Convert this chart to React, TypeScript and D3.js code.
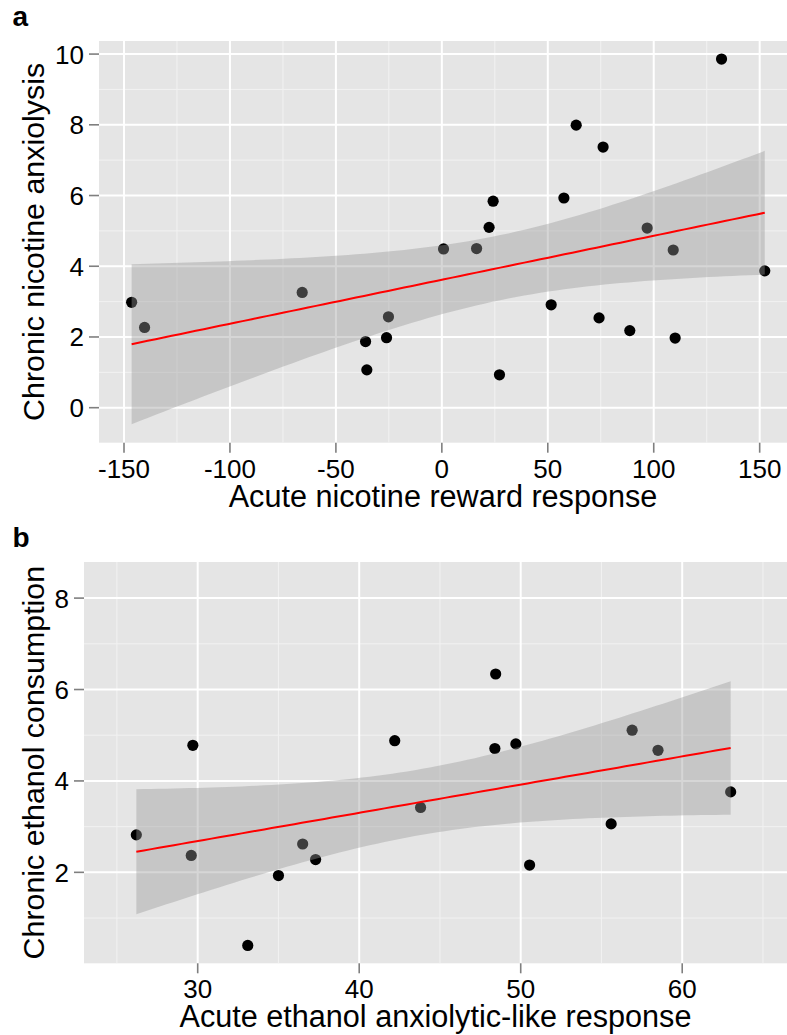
import React from "react";
import * as d3 from "d3";

// ---- Panel a data: acute nicotine reward vs chronic nicotine anxiolysis ----
const nicotineReward = [-146.4, -140.3, -65.9, -36.0, -35.4, -26.1, -25.2, 0.8, 16.4, 22.3, 24.2, 27.2, 51.6, 57.6, 63.4, 74.2, 76.1, 88.7, 96.9, 109.2, 110.1, 132.0, 152.4];
const nicotineAnxiolysis = [2.98, 2.27, 3.26, 1.87, 1.07, 1.98, 2.57, 4.49, 4.50, 5.10, 5.84, 0.93, 2.91, 5.93, 7.99, 2.54, 7.37, 2.18, 5.08, 4.46, 1.97, 9.86, 3.87];
const nicotineXTicks = [-150, -100, -50, 0, 50, 100, 150];
const nicotineXMinor = [-125, -75, -25, 25, 75, 125];
const nicotineYTicks = [0, 2, 4, 6, 8, 10];
const nicotineYMinor = [-1, 1, 3, 5, 7, 9];

// ---- Panel b data: acute ethanol anxiolytic-like vs chronic ethanol consumption ----
const ethanolAnxiolytic = [26.2, 29.6, 29.7, 33.1, 35.0, 36.5, 37.3, 42.2, 43.8, 48.4, 48.45, 49.7, 50.55, 55.6, 56.9, 58.5, 63.0];
const ethanolConsumption = [2.82, 2.37, 4.78, 0.40, 1.93, 2.62, 2.28, 4.88, 3.42, 4.71, 6.34, 4.81, 2.16, 3.06, 5.11, 4.67, 3.76];
const ethanolXTicks = [30, 40, 50, 60];
const ethanolXMinor = [25, 35, 45, 55, 65];
const ethanolYTicks = [2, 4, 6, 8];
const ethanolYMinor = [1, 3, 5, 7];

// t quantile (0.975) via Cornish-Fisher expansion
function tq975(v: number) {
  const z = 1.959963985;
  const z3 = z ** 3, z5 = z ** 5, z7 = z ** 7, z9 = z ** 9;
  return (
    z +
    (z3 + z) / (4 * v) +
    (5 * z5 + 16 * z3 + 3 * z) / (96 * v * v) +
    (3 * z7 + 19 * z5 + 17 * z3 - 15 * z) / (384 * v ** 3) +
    (79 * z9 + 776 * z7 + 1482 * z5 - 1920 * z3 - 945 * z) / (92160 * v ** 4)
  );
}

function fitLm(xs: number[], ys: number[]) {
  const n = xs.length;
  const mx = d3.mean(xs)!;
  const my = d3.mean(ys)!;
  let sxx = 0, sxy = 0;
  xs.forEach((x, i) => {
    sxx += (x - mx) ** 2;
    sxy += (x - mx) * (ys[i] - my);
  });
  const b = sxy / sxx;
  const a = my - b * mx;
  let sse = 0;
  xs.forEach((x, i) => (sse += (ys[i] - a - b * x) ** 2));
  const s = Math.sqrt(sse / (n - 2));
  const t = tq975(n - 2);
  const [x0, x1] = d3.extent(xs) as [number, number];
  const pts = d3.range(80).map((i) => {
    const x = x0 + ((x1 - x0) * i) / 79;
    const yhat = a + b * x;
    const se = s * Math.sqrt(1 / n + (x - mx) ** 2 / sxx);
    return { x, y: yhat, lo: yhat - t * se, hi: yhat + t * se };
  });
  return pts;
}

const FONT = "'Liberation Sans', Arial, Helvetica, sans-serif";

type PanelProps = {
  label: string;
  xs: number[];
  ys: number[];
  xDomain: [number, number];
  yDomain: [number, number];
  xRange: [number, number];
  yRange: [number, number];
  xTicks: number[];
  xMinor: number[];
  yTicks: number[];
  yMinor: number[];
  xTitle: string;
  yTitle: string;
  labelY: number;
  yTitleX: number;
};

function Panel(p: PanelProps) {
  const x = d3.scaleLinear().domain(p.xDomain).range(p.xRange);
  const y = d3.scaleLinear().domain(p.yDomain).range(p.yRange);
  const [L, R] = p.xRange;
  const [B, T] = p.yRange;
  const fit = fitLm(p.xs, p.ys);
  const area = d3
    .area<{ x: number; lo: number; hi: number }>()
    .x((d) => x(d.x))
    .y0((d) => y(d.lo))
    .y1((d) => y(d.hi));
  const line = d3
    .line<{ x: number; y: number }>()
    .x((d) => x(d.x))
    .y((d) => y(d.y));
  const inX = (v: number) => x(v) >= L && x(v) <= R;
  const inY = (v: number) => y(v) <= B && y(v) >= T;
  const clipId = "clip-" + p.label;
  return (
    <g>
      <text x={12.5} y={p.labelY} fontFamily={FONT} fontWeight="bold" fontSize={28} fill="#000">
        {p.label}
      </text>
      <defs>
        <clipPath id={clipId}>
          <rect x={L} y={T} width={R - L} height={B - T} />
        </clipPath>
      </defs>
      <rect x={L} y={T} width={R - L} height={B - T} fill="#E5E5E5" />
      {p.xMinor.filter(inX).map((v) => (
        <line key={"xm" + v} x1={x(v)} x2={x(v)} y1={T} y2={B} stroke="#F2F2F2" strokeWidth={1} />
      ))}
      {p.yMinor.filter(inY).map((v) => (
        <line key={"ym" + v} x1={L} x2={R} y1={y(v)} y2={y(v)} stroke="#F2F2F2" strokeWidth={1} />
      ))}
      {p.xTicks.map((v) => (
        <line key={"xM" + v} x1={x(v)} x2={x(v)} y1={T} y2={B} stroke="#FFFFFF" strokeWidth={2} />
      ))}
      {p.yTicks.map((v) => (
        <line key={"yM" + v} x1={L} x2={R} y1={y(v)} y2={y(v)} stroke="#FFFFFF" strokeWidth={2} />
      ))}
      <g clipPath={`url(#${clipId})`}>
        {p.xs.map((v, i) => (
          <circle key={"pt" + i} cx={x(v)} cy={y(p.ys[i])} r={5.6} fill="#000" />
        ))}
        <path d={area(fit) || ""} fill="#999999" fillOpacity={0.4} />
        <path d={line(fit) || ""} fill="none" stroke="#FF0000" strokeWidth={2} />
      </g>
      {p.xTicks.map((v) => (
        <g key={"xt" + v}>
          <line x1={x(v)} x2={x(v)} y1={B} y2={B + 10} stroke="#7F7F7F" strokeWidth={1.6} />
          <text x={x(v)} y={B + 35} textAnchor="middle" fontFamily={FONT} fontSize={26} fill="#000">
            {v}
          </text>
        </g>
      ))}
      {p.yTicks.map((v) => (
        <g key={"yt" + v}>
          <line x1={L - 10} x2={L} y1={y(v)} y2={y(v)} stroke="#7F7F7F" strokeWidth={1.6} />
          <text x={L - 15} y={y(v) + 9.5} textAnchor="end" fontFamily={FONT} fontSize={26} fill="#000">
            {v}
          </text>
        </g>
      ))}
      <text
        x={(L + Math.min(R, 787)) / 2}
        y={B + 64}
        textAnchor="middle"
        fontFamily={FONT}
        fontSize={30.6}
        fill="#000"
      >
        {p.xTitle}
      </text>
      <text
        transform={`translate(${p.yTitleX},${(T + B) / 2}) rotate(-90)`}
        textAnchor="middle"
        fontFamily={FONT}
        fontSize={30.4}
        fill="#000"
      >
        {p.yTitle}
      </text>
    </g>
  );
}

export default function App() {
  return (
    <div style={{ position: "absolute", left: 0, top: 0 }}>
      <svg width={787} height={1035} style={{ display: "block", background: "#fff" }}>
        <Panel
          label="a"
          xs={nicotineReward}
          ys={nicotineAnxiolysis}
          xDomain={[-161.8, 167]}
          yDomain={[-0.99, 10.37]}
          xRange={[99, 795.7]}
          yRange={[442.7, 41]}
          xTicks={nicotineXTicks}
          xMinor={nicotineXMinor}
          yTicks={nicotineYTicks}
          yMinor={nicotineYMinor}
          xTitle="Acute nicotine reward response"
          yTitle="Chronic nicotine anxiolysis"
          labelY={25.5}
          yTitleX={44}
        />
        <Panel
          label="b"
          xs={ethanolAnxiolytic}
          ys={ethanolConsumption}
          xDomain={[22.96, 67.2]}
          yDomain={[0.01, 8.79]}
          xRange={[84, 798.5]}
          yRange={[963.3, 562]}
          xTicks={ethanolXTicks}
          xMinor={ethanolXMinor}
          yTicks={ethanolYTicks}
          yMinor={ethanolYMinor}
          xTitle="Acute ethanol anxiolytic-like response"
          yTitle="Chronic ethanol consumption"
          labelY={547}
          yTitleX={44}
        />
      </svg>
    </div>
  );
}
